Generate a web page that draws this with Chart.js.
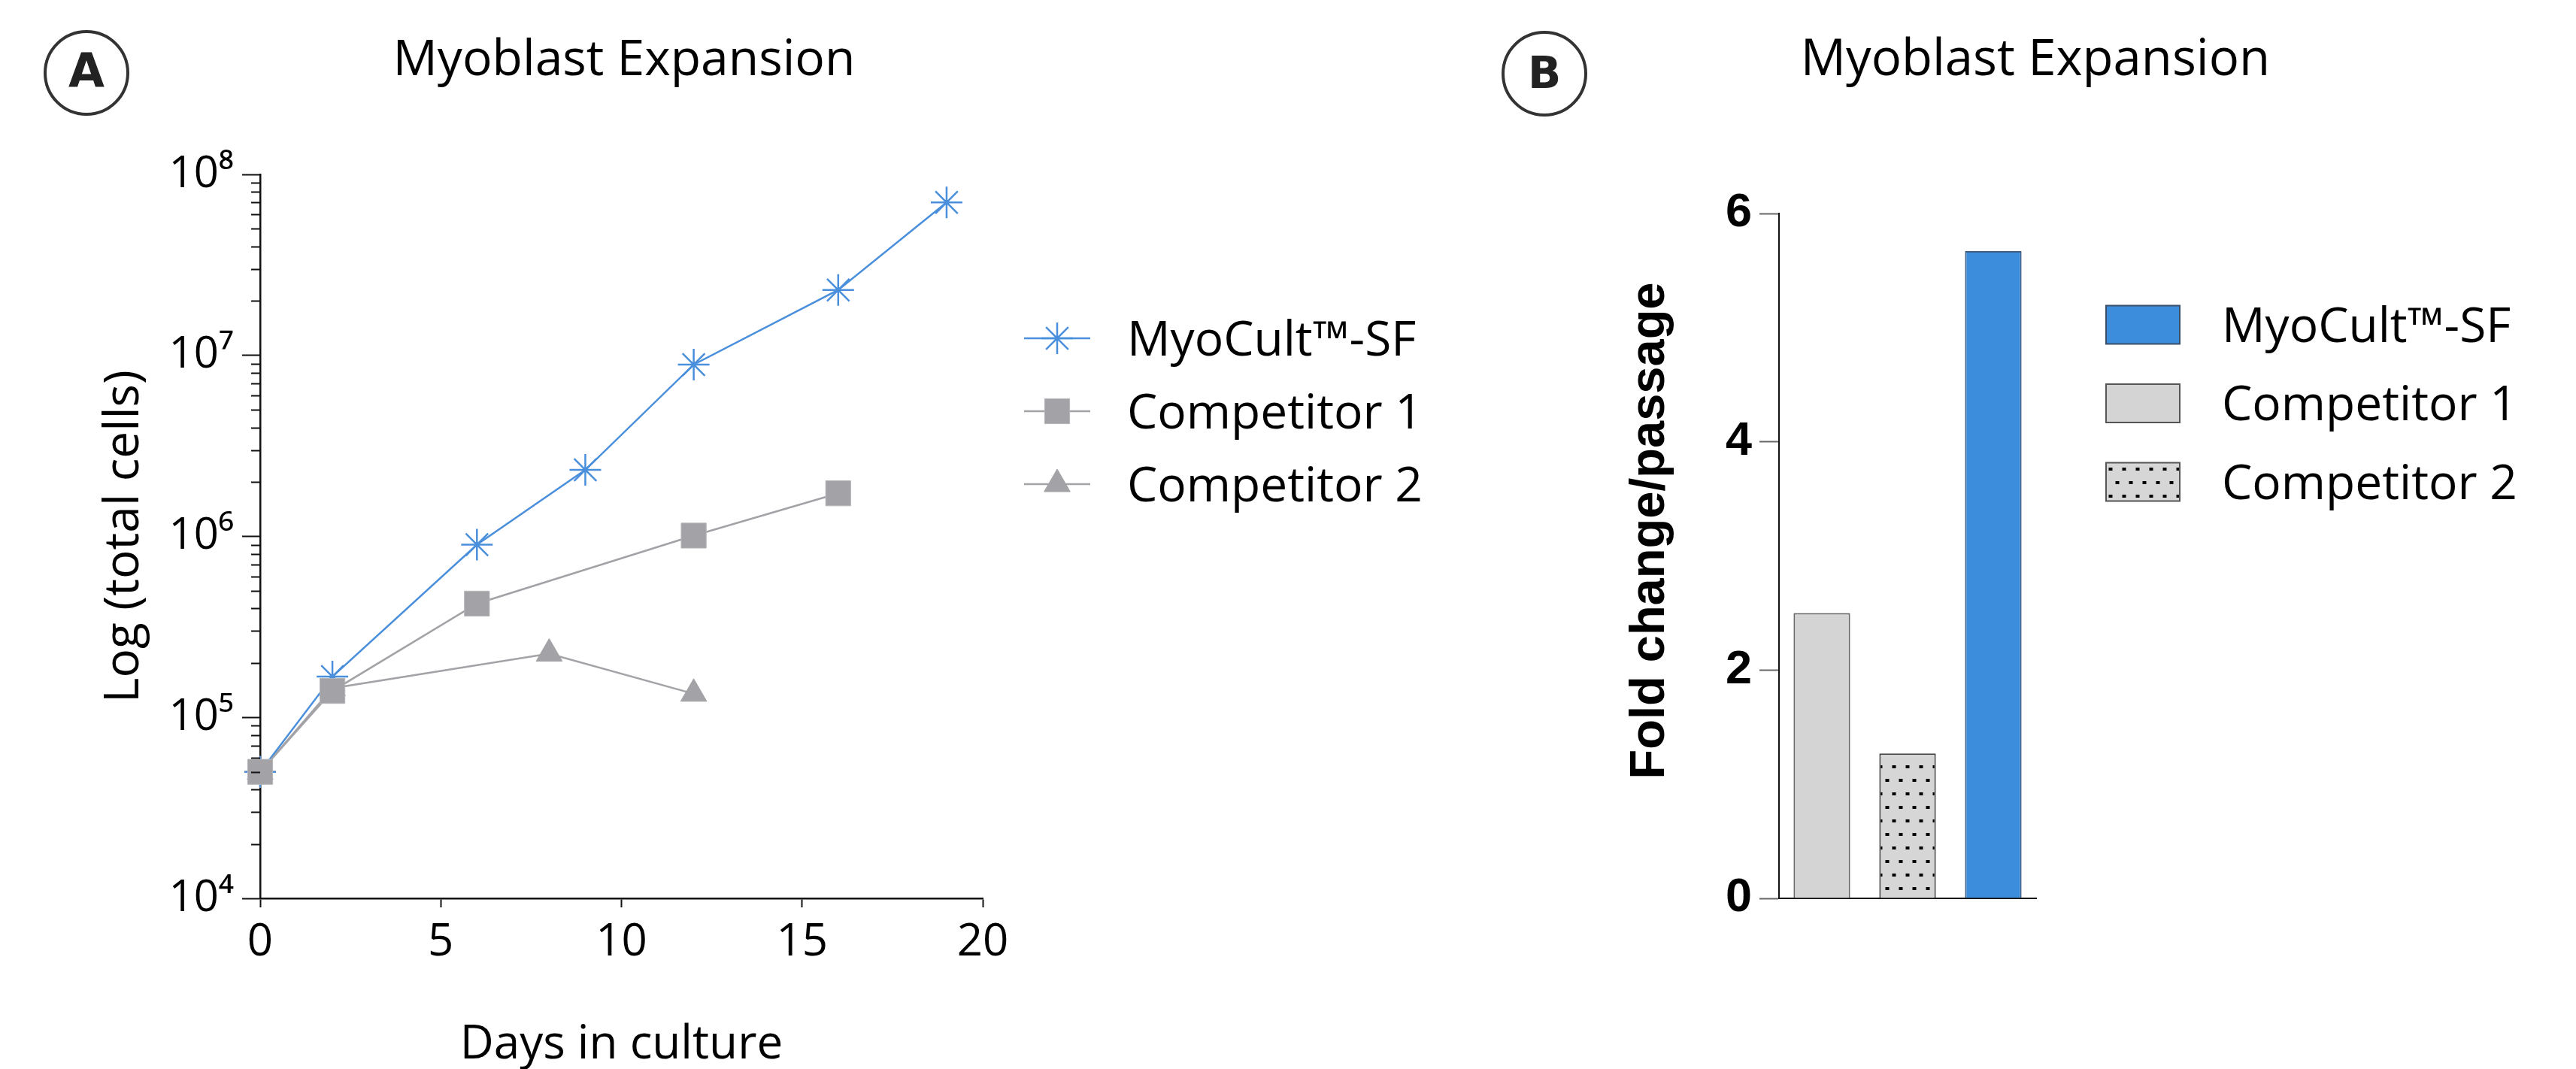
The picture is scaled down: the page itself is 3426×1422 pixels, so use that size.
<!DOCTYPE html>
<html>
<head>
<meta charset="utf-8">
<title>Myoblast Expansion</title>
<script src="https://cdn.jsdelivr.net/npm/chart.js"></script>
<style>
  html, body { margin: 0; padding: 0; background: #fff; }
  #wrap { position: relative; width: 3426px; height: 1422px; overflow: hidden; }
  canvas { position: absolute; top: 0; }
</style>
</head>
<body>
<div id="wrap">
  <canvas id="growthChart" width="1960" height="1422" style="left:0"></canvas>
  <canvas id="foldChart" width="1466" height="1422" style="left:1960px"></canvas>
</div>
<script>
// ---- panel A: total cells over days in culture ----
const daysMyo = [0, 2, 6, 9, 12, 16, 19];
const cellsMyo = [5.0e4, 1.68e5, 9.0e5, 2.33e6, 8.9e6, 2.3e7, 7.0e7];
const daysComp1 = [0, 2, 6, 12, 16];
const cellsComp1 = [5.0e4, 1.4e5, 4.25e5, 1.01e6, 1.73e6];
const daysComp2 = [0, 2, 8, 12];
const cellsComp2 = [5.0e4, 1.45e5, 2.25e5, 1.35e5];
const daysSeed = [0];
const cellsSeed = [5.0e4];

const xTicks = [0, 5, 10, 15, 20];
const yTicks = [1e4, 1e5, 1e6, 1e7, 1e8];
const yTickLabels = ['10\u2074', '10\u2075', '10\u2076', '10\u2077', '10\u2078'];

// ---- panel B: fold change per passage ----
const barLabels = ['Competitor 1', 'Competitor 2', 'MyoCult\u2122-SF'];
const foldChange = [2.5, 1.27, 5.67];
const barLegendOrder = ['MyoCult\u2122-SF', 'Competitor 1', 'Competitor 2'];
const foldTicks = [0, 2, 4, 6];

const sans = "'Open Sans', sans-serif";
const arialish = "'Liberation Sans', Arial, sans-serif";
const BLUE = '#4a8fdc';
const GRAY = '#a3a3a7';
Chart.defaults.font.family = sans;
Chart.defaults.color = '#000';

const toPoints = (xs, ys) => xs.map((x, i) => ({ x: x, y: ys[i] }));

// dotted fill used for Competitor 2
function makeDots() {
  const c = document.createElement('canvas');
  c.width = 18; c.height = 36;
  const g = c.getContext('2d');
  g.fillStyle = '#d6d6d6';
  g.fillRect(0, 0, 18, 36);
  g.fillStyle = '#000';
  [[10, 30], [1, 12]].forEach(([cx, cy]) => {
    [-18, 0, 18].forEach(dx => g.fillRect(cx + dx - 2.5, cy - 2, 5, 4));
  });
  return g.createPattern(c, 'repeat');
}
const dotPattern = makeDots();

// badge, title, custom legend, rotated axis caption and minor log ticks
const decorPlugin = {
  id: 'decor',
  afterDraw(chart, args, o) {
    const ctx = chart.ctx;
    ctx.save();
    if (o.badge) {
      const b = o.badge;
      ctx.beginPath();
      ctx.arc(b.x, b.y, b.r, 0, Math.PI * 2);
      ctx.lineWidth = 4;
      ctx.strokeStyle = '#333';
      ctx.stroke();
      ctx.fillStyle = '#222';
      ctx.font = 'bold ' + b.size + "px 'DejaVu Sans', sans-serif";
      ctx.textAlign = 'center';
      ctx.textBaseline = 'alphabetic';
      ctx.fillText(b.letter, b.x, b.base);
    }
    if (o.title) {
      ctx.fillStyle = '#000';
      ctx.font = o.title.size + 'px ' + sans;
      ctx.textAlign = 'center';
      ctx.textBaseline = 'alphabetic';
      ctx.fillText(o.title.text, o.title.x, o.title.base);
    }
    if (o.yTitle) {
      const t = o.yTitle;
      ctx.save();
      ctx.translate(t.x, t.y);
      ctx.rotate(-Math.PI / 2);
      ctx.fillStyle = '#000';
      ctx.font = t.font;
      ctx.textAlign = 'center';
      ctx.textBaseline = 'middle';
      ctx.fillText(t.text, 0, 0);
      ctx.restore();
    }
    if (o.minor) {
      const s = chart.scales[o.minor.scale];
      ctx.strokeStyle = '#111';
      ctx.lineWidth = 2;
      for (let i = 0; i < yTicks.length - 1; i++) {
        for (let k = 2; k <= 9; k++) {
          const py = Math.round(s.getPixelForValue(k * yTicks[i])) + 0.5;
          ctx.beginPath();
          ctx.moveTo(s.right - o.minor.len, py);
          ctx.lineTo(s.right, py);
          ctx.stroke();
        }
      }
    }
    if (o.legend) {
      const L = o.legend;
      const fs = 64;
      ctx.font = fs + 'px ' + sans;
      ctx.textAlign = 'left';
      ctx.textBaseline = 'alphabetic';
      L.items.forEach((it, i) => {
        const y = L.y + i * L.gap;
        if (L.kind === 'line') {
          ctx.strokeStyle = it.borderColor;
          ctx.lineWidth = it.borderWidth;
          ctx.beginPath();
          ctx.moveTo(L.x, y);
          ctx.lineTo(L.x + L.w, y);
          ctx.stroke();
          ctx.fillStyle = it.pointBackgroundColor;
          ctx.strokeStyle = it.pointBorderColor;
          ctx.lineWidth = it.pointBorderWidth;
          Chart.helpers.drawPoint(ctx, {
            pointStyle: it.pointStyle, radius: it.pointRadius,
            borderWidth: it.pointBorderWidth, rotation: 0
          }, L.x + L.w / 2, y);
        } else {
          ctx.fillStyle = it.fill;
          ctx.fillRect(L.x, y - L.h / 2, L.w, L.h);
          ctx.strokeStyle = it.stroke;
          ctx.lineWidth = 2;
          ctx.strokeRect(L.x, y - L.h / 2, L.w, L.h);
        }
        ctx.fillStyle = '#000';
        ctx.fillText(it.label, L.tx, y + 0.357 * fs);
      });
    }
    ctx.restore();
  }
};

// Panel A
const lineSets = [
  { label: 'MyoCult\u2122-SF', data: toPoints(daysMyo, cellsMyo), borderColor: BLUE, borderWidth: 2.5,
    pointStyle: 'star', pointRadius: 21, pointBackgroundColor: BLUE, pointBorderColor: BLUE, pointBorderWidth: 2.5, order: 1 },
  { label: 'Competitor 1', data: toPoints(daysComp1, cellsComp1), borderColor: GRAY, borderWidth: 2.5,
    pointStyle: 'rect', pointRadius: 23.5, pointBackgroundColor: GRAY, pointBorderColor: '#b6b6ba', pointBorderWidth: 1, order: 0 },
  { label: 'Competitor 2', data: toPoints(daysComp2, cellsComp2), borderColor: GRAY, borderWidth: 2.5,
    pointStyle: 'triangle', pointRadius: 20, pointBackgroundColor: GRAY, pointBorderColor: GRAY, pointBorderWidth: 1, order: 2 },
  { label: '', data: toPoints(daysSeed, cellsSeed), borderColor: '#f5a24a', borderWidth: 2.5, showLine: false,
    pointStyle: 'cross', pointRadius: 21, pointBackgroundColor: '#f5a24a', pointBorderColor: '#f5a24a', pointBorderWidth: 2.5, order: 3 }
];
lineSets.forEach(d => { d.clip = false; d.tension = 0; d.fill = false; d.pointHoverRadius = d.pointRadius; });

new Chart(document.getElementById('growthChart'), {
  type: 'line',
  data: { datasets: lineSets },
  plugins: [decorPlugin],
  options: {
    responsive: false,
    animation: false,
    devicePixelRatio: 1,
    layout: { padding: { left: 0, top: 232, right: 653, bottom: 0 } },
    plugins: {
      legend: { display: false },
      tooltip: { enabled: false },
      decor: {
        badge: { letter: 'A', x: 115, y: 97, r: 55, size: 62, base: 115 },
        title: { text: 'Myoblast Expansion', x: 830, base: 100, size: 66 },
        minor: { scale: 'y', len: 12 },
        legend: { kind: 'line', x: 1362, w: 88, tx: 1499, y: 450, gap: 97, items: lineSets.slice(0, 3) }
      }
    },
    scales: {
      x: {
        type: 'linear', min: 0, max: 20,
        afterFit: s => { s.height = 227; },
        afterBuildTicks: s => { s.ticks = xTicks.map(v => ({ value: v })); },
        border: { color: '#111', width: 2.5 },
        grid: { drawOnChartArea: false, tickLength: 12, tickWidth: 2, tickColor: '#111' },
        ticks: { font: { size: 60 }, padding: 11, color: '#000' },
        title: { display: true, text: 'Days in culture', font: { size: 62, lineHeight: 1 }, padding: { top: 0, bottom: 1 }, color: '#000' }
      },
      y: {
        type: 'logarithmic', min: 1e4, max: 1e8,
        afterFit: s => { s.width = 346; },
        afterBuildTicks: s => { s.ticks = yTicks.map(v => ({ value: v })); },
        border: { color: '#111', width: 2.5 },
        grid: { drawOnChartArea: false, tickLength: 24, tickWidth: 2, tickColor: '#111' },
        ticks: { callback: (v, i) => yTickLabels[i], font: { size: 58 }, padding: 11, color: '#000' },
        title: { display: true, text: 'Log (total cells)', font: { size: 64 }, padding: { top: 127, bottom: 0 }, color: '#000' }
      }
    }
  }
});

// Panel B
const barFill = ['#d4d4d4', dotPattern, '#3d8ddd'];
const barStroke = ['#666', '#444', '#3e5f86'];

new Chart(document.getElementById('foldChart'), {
  type: 'bar',
  data: {
    labels: barLabels,
    datasets: [{
      data: foldChange,
      backgroundColor: barFill,
      borderColor: barStroke,
      borderWidth: 2,
      barPercentage: 0.66,
      categoryPercentage: 1
    }]
  },
  plugins: [decorPlugin],
  options: {
    responsive: false,
    animation: false,
    devicePixelRatio: 1,
    layout: { padding: { left: 0, top: 284, right: 718, bottom: 0 } },
    plugins: {
      legend: { display: false },
      tooltip: { enabled: false },
      decor: {
        badge: { letter: 'B', x: 94, y: 98, r: 55, size: 58, base: 117 },
        title: { text: 'Myoblast Expansion', x: 747, base: 100, size: 67 },
        yTitle: { text: 'Fold change/passage', x: 235, y: 706, font: 'bold 65px ' + arialish },
        legend: {
          kind: 'box', x: 841, w: 98, h: 51, tx: 995, y: 432, gap: 104.5,
          items: barLegendOrder.map(name => {
            const i = barLabels.indexOf(name);
            return { label: name, fill: barFill[i], stroke: i === 2 ? '#3b4f66' : '#555' };
          })
        }
      }
    },
    scales: {
      x: {
        afterFit: s => { s.height = 227; },
        border: { color: '#111', width: 2 },
        grid: { drawOnChartArea: false, drawTicks: false },
        ticks: { display: false }
      },
      y: {
        min: 0, max: 6,
        afterFit: s => { s.width = 406; },
        afterBuildTicks: s => { s.ticks = foldTicks.map(v => ({ value: v })); },
        border: { color: '#111', width: 2 },
        grid: { drawOnChartArea: false, tickLength: 26, tickWidth: 2, tickColor: '#666' },
        ticks: { font: { family: arialish, size: 63, weight: 'bold' }, padding: 10, color: '#000' }
      }
    }
  }
});
</script>
</body>
</html>
